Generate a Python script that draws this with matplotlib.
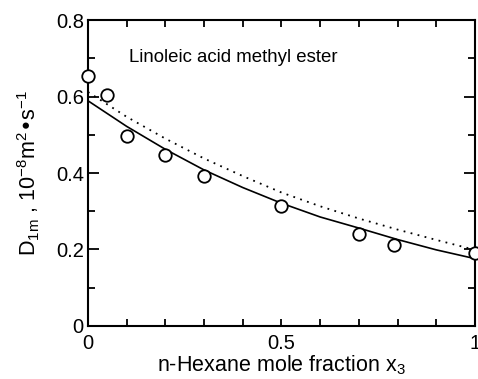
import numpy as np
import matplotlib
matplotlib.use("Agg")
import matplotlib.pyplot as plt
from matplotlib.ticker import MultipleLocator, FormatStrFormatter

plt.rcParams['font.family'] = ['Liberation Sans', 'DejaVu Sans']
plt.rcParams['mathtext.default'] = 'regular'

# measured points
x_exp = [0.0, 0.05, 0.1, 0.2, 0.3, 0.5, 0.7, 0.79, 1.0]
d_exp = [0.654, 0.604, 0.497, 0.446, 0.392, 0.315, 0.240, 0.212, 0.192]

# correlation curves
x_curve = [0.0, 0.1, 0.2, 0.3, 0.4, 0.5, 0.6, 0.7, 0.8, 0.9, 1.0]
d_solid = [0.589, 0.522, 0.462, 0.408, 0.362, 0.321, 0.285, 0.256, 0.226, 0.199, 0.176]
d_dotted = [0.612, 0.547, 0.490, 0.438, 0.392, 0.349, 0.313, 0.281, 0.252, 0.225, 0.199]

fig = plt.figure(figsize=(4.78, 3.79), dpi=100)
ax = fig.add_axes([0.184, 0.140, 0.8097, 0.807])

ax.plot(x_curve, d_solid, color='black', lw=1.2)
ax.plot(x_curve, d_dotted, color='black', lw=1.3, linestyle=(0, (1, 3)))
ax.plot(x_exp, d_exp, 'o', mfc='white', mec='black', ms=9, mew=1.3, clip_on=False, zorder=5)

ax.text(0.105, 0.703, 'Linoleic acid methyl ester', fontsize=13.4, va='center')

ax.set_xlim(0, 1)
ax.set_ylim(0, 0.8)
ax.set_xticks([0, 0.5, 1])
ax.xaxis.set_minor_locator(MultipleLocator(0.1))
ax.yaxis.set_major_locator(MultipleLocator(0.2))
ax.yaxis.set_minor_locator(MultipleLocator(0.1))
ax.xaxis.set_major_formatter(FormatStrFormatter('%g'))
ax.yaxis.set_major_formatter(FormatStrFormatter('%g'))

ax.tick_params(which='both', direction='in', top=True, right=True, labelsize=14.5, width=1.3)
ax.tick_params(axis='x', which='both', length=5)
ax.tick_params(axis='y', which='major', length=8)
ax.tick_params(axis='y', which='minor', length=5)
ax.tick_params(axis='x', pad=6)
ax.tick_params(axis='y', pad=3)
for s in ax.spines.values():
    s.set_linewidth(1.5)

ax.set_xlabel('n-Hexane mole fraction x$_3$', fontsize=15.5, labelpad=0)
ax.set_ylabel('D$_{1m}$ , 10$^{-8}$m$^2$•s$^{-1}$', fontsize=15.5, labelpad=10)

fig.savefig('out.png', dpi=100)
